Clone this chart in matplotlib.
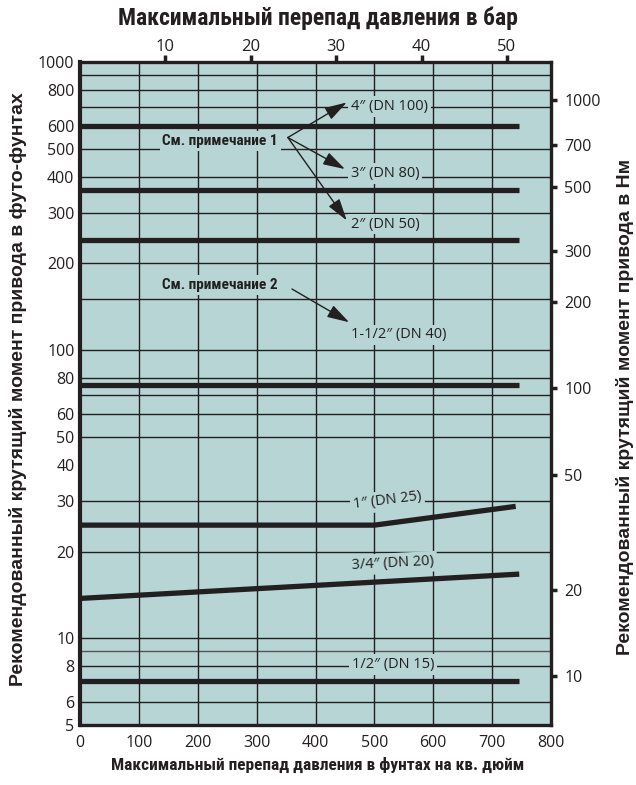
import matplotlib.pyplot as plt
from matplotlib import font_manager

# Valve actuator torque vs. differential pressure (ft-lb, log scale)
psi_flat = [0, 745]
torque_4in = [600, 600]
torque_3in = [360, 360]
torque_2in = [242, 242]
torque_1_5in = [75.5, 75.5]
psi_1in = [0, 500, 740]
torque_1in = [24.7, 24.7, 28.7]
psi_3_4in = [0, 746]
torque_3_4in = [13.75, 16.7]
torque_1_2in = [7.1, 7.1]

size_labels = ['4″ (DN 100)', '3″ (DN 80)', '2″ (DN 50)', '1-1/2″ (DN 40)',
               '1″ (DN 25)', '3/4″ (DN 20)', '1/2″ (DN 15)']

left_ticks = [5, 6, 8, 10, 20, 30, 40, 50, 60, 80, 100, 200, 300, 400, 500, 600, 800, 1000]
grid_h = [6, 8, 9, 10, 20, 30, 50, 60, 70, 80, 100, 150, 200, 300, 400, 500, 700, 800, 900]
grid_v = [100, 200, 300, 400, 500, 600, 700]
psi_ticks = [0, 100, 200, 300, 400, 500, 600, 700, 800]
bar_ticks = [10, 20, 30, 40, 50]
nm_ticks = [10, 20, 50, 100, 200, 300, 500, 700, 1000]

PSI_PER_BAR = 14.5038
NM_PER_FTLB = 1.35582

bg = '#b7d5d5'
ink = '#231f20'
reg = ['Open Sans', 'DejaVu Sans']
names = {f.name for f in font_manager.fontManager.ttflist}
cond = [n for n in ['Liberation Sans Narrow', 'Roboto Condensed', 'DejaVu Sans Condensed', 'Roboto']
        if n in names] + ['DejaVu Sans']
wide = ['Liberation Sans', 'DejaVu Sans']

fig = plt.figure(figsize=(6.36, 7.85), dpi=100)
ax = fig.add_axes([0.1258, 0.0764, 0.7406, 0.8446])
ax.set_facecolor(bg)
ax.set_yscale('log')
ax.set_xlim(0, 800)
ax.set_ylim(5, 1000)

for v in grid_h:
    ax.axhline(v, color='#555555' if v == 9 else ink, lw=1.0, zorder=1)
for v in grid_v:
    ax.axvline(v, color=ink, lw=1.0, zorder=1)

line_kw = dict(color=ink, lw=3.8, solid_capstyle='butt', solid_joinstyle='miter', zorder=4)
ax.plot(psi_flat, torque_4in, **line_kw)
ax.plot(psi_flat, torque_3in, **line_kw)
ax.plot(psi_flat, torque_2in, **line_kw)
ax.plot(psi_flat, torque_1_5in, **line_kw)
ax.plot(psi_1in, torque_1in, **line_kw)
ax.plot(psi_3_4in, torque_3_4in, **line_kw)
ax.plot(psi_flat, torque_1_2in, **line_kw)

box = dict(facecolor=bg, edgecolor='none', pad=2)
lbl_kw = dict(fontsize=10.5, color=ink, family=reg, bbox=box, zorder=3)
ax.text(460, 700, size_labels[0], ha='left', va='center', **lbl_kw)
ax.text(460, 410, size_labels[1], ha='left', va='center', **lbl_kw)
ax.text(460, 274, size_labels[2], ha='left', va='center', **lbl_kw)
ax.text(460, 113, size_labels[3], ha='left', va='center', **lbl_kw)
ax.text(522, 30, size_labels[4], ha='center', va='center', rotation=7, **lbl_kw)
ax.text(532, 18.2, size_labels[5], ha='center', va='center', rotation=3, **lbl_kw)
ax.text(532, 8.1, size_labels[6], ha='center', va='center', **lbl_kw)

note_kw = dict(fontsize=11, color=ink, family=cond, fontweight='bold', bbox=box, zorder=3)
ax.text(140, 532, 'См. примечание 1', ha='left', va='center', **note_kw)
ax.text(140, 168, 'См. примечание 2', ha='left', va='center', **note_kw)

arrow = dict(arrowstyle='-|>,head_length=0.9,head_width=0.27', color=ink, lw=1.0,
             shrinkA=0, shrinkB=0, mutation_scale=15)
for head in [(453, 724), (450, 425), (453, 282)]:
    ax.annotate('', xy=head, xytext=(353, 547), arrowprops=arrow, zorder=5)
ax.annotate('', xy=(457, 125), xytext=(360, 163), arrowprops=arrow, zorder=5)

for s in ax.spines.values():
    s.set_linewidth(2.4)
    s.set_color(ink)
ax.spines['left'].set_linewidth(3)

ax.set_yticks(left_ticks)
ax.set_yticklabels([str(t) for t in left_ticks])
ax.yaxis.set_minor_locator(plt.NullLocator())
ax.set_xticks(psi_ticks)
ax.tick_params(axis='both', length=0, labelsize=11.5, colors=ink)
ax.tick_params(axis='y', pad=4)
ax.tick_params(axis='x', pad=7)
for t in ax.get_xticklabels() + ax.get_yticklabels():
    t.set_family(reg)

# bar scale along the top
top = ax.secondary_xaxis('top', functions=(lambda p: p / PSI_PER_BAR, lambda b: b * PSI_PER_BAR))
top.set_xticks(bar_ticks)
top.tick_params(direction='out', length=5, width=2.5, color=ink, labelsize=12,
                labelcolor=ink, pad=0)
top.spines['top'].set_visible(False)
for t in top.get_xticklabels():
    t.set_family(reg)

# N·m scale on the right
right = ax.twinx()
right.set_yscale('log')
right.set_ylim(5 * NM_PER_FTLB, 1000 * NM_PER_FTLB)
right.set_yticks(nm_ticks)
right.set_yticklabels([str(t) for t in nm_ticks])
right.yaxis.set_minor_locator(plt.NullLocator())
right.tick_params(axis='y', direction='out', length=4.5, width=2.5, color=ink,
                  labelsize=11.5, labelcolor=ink, pad=5)
for s in right.spines.values():
    s.set_visible(False)
for t in right.get_yticklabels():
    t.set_family(reg)

fig.text(0.5, 1 - 18 / 785, 'Максимальный перепад давления в бар', ha='center', va='center',
         fontsize=17, fontweight='bold', family=cond, color=ink)
fig.text(0.5, 1 - 765 / 785, 'Максимальный перепад давления в фунтах на кв. дюйм',
         ha='center', va='center', fontsize=12.5, fontweight='bold', family=cond, color=ink)
fig.text(18 / 636, 1 - 389 / 785, 'Рекомендованный крутящий момент привода в футо-фунтах',
         ha='center', va='center', rotation=90, fontsize=14, fontweight='bold',
         family=wide, color=ink)
fig.text(625 / 636, 1 - 407 / 785, 'Рекомендованный крутящий момент привода в Нм',
         ha='center', va='center', rotation=90, fontsize=14, fontweight='bold',
         family=wide, color=ink)

fig.savefig('out.png', dpi=100)
